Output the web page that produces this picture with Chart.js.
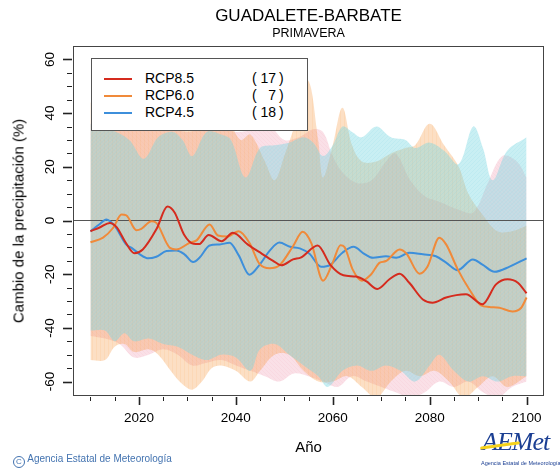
<!DOCTYPE html>
<html>
<head>
<meta charset="utf-8">
<script src="https://cdn.jsdelivr.net/npm/chart.js@4.4.1/dist/chart.umd.min.js"></script>
<style>
  body { margin: 0; background: #fff; font-family: "Liberation Sans", Arial, sans-serif; }
  #wrap { position: relative; width: 560px; height: 469px; overflow: hidden; }
  #chart { position: absolute; left: 0; top: 0; }
  .t { position: absolute; white-space: nowrap; color: #000; }
  #legend { position: absolute; left: 91px; top: 58px; width: 215px; height: 71px;
            border: 1px solid #555; background: #fff; }
  .row { position: absolute; left: 0; width: 215px; height: 17px; font-size: 14px; line-height: 17px; }
  .row .sw { position: absolute; left: 12px; top: 8px; width: 28px; height: 2px; }
  .row .name { position: absolute; left: 53px; }
  .row .po { position: absolute; left: 160px; }
  .row .n { position: absolute; left: 164px; width: 20px; text-align: right; }
  .row .pc { position: absolute; left: 187px; }
</style>
</head>
<body>
<div id="wrap">
  <canvas id="chart" width="560" height="469"></canvas>
  <div class="t" style="left:0;width:617px;text-align:center;top:6px;font-size:17px;">GUADALETE-BARBATE</div>
  <div class="t" style="left:0;width:617px;text-align:center;top:26px;font-size:12.5px;">PRIMAVERA</div>
  <div class="t" style="left:18px;top:221px;font-size:15px;transform:translate(-50%,-50%) rotate(-90deg);">Cambio de la precipitación (%)</div>
  <div class="t" style="left:0;width:617px;text-align:center;top:438px;font-size:15px;">Año</div>
  <div id="legend"></div>
  <div class="t" style="left:13px;top:453px;font-size:10px;color:#4373b0;">
    <span style="display:inline-block;width:10px;height:10px;border:1px solid #4373b0;border-radius:50%;font-size:8px;line-height:10px;text-align:center;vertical-align:-2px;">C</span>
    Agencia Estatal de Meteorología</div>
  <div class="t" style="left:482px;top:427px;font-size:26px;font-family:'Liberation Serif',serif;font-style:italic;color:#1b3f93;letter-spacing:-1px;">AEMet</div>
  <div style="position:absolute;left:480px;top:444px;width:40px;height:3px;background:#f5d21c;transform:rotate(-8deg);border-radius:2px;"></div>
  <div class="t" style="left:481px;top:460px;font-size:5.5px;color:#1b3f93;">Agencia Estatal de Meteorología</div>
</div>
<script>
// Axis ticks
const xTickYears = [2010, 2015, 2020, 2025, 2030, 2035, 2040, 2045, 2050, 2055, 2060, 2065, 2070, 2075, 2080, 2085, 2090, 2095, 2100];
const xTickLabels = [2020, 2040, 2060, 2080, 2100];
const yTickValues = [-60, -55, -50, -45, -40, -35, -30, -25, -20, -15, -10, -5, 0, 5, 10, 15, 20, 25, 30, 35, 40, 45, 50, 55, 60];
const yTickLabels = [-60, -40, -20, 0, 20, 40, 60];

// Legend
const scenarios = ['RCP8.5', 'RCP6.0', 'RCP4.5'];
const modelCounts = [17, 7, 18];

// Ensemble means [year, %]
const rcp85Mean = [[2010,-4],[2012,-2.5],[2014,-0.9],[2015.4,-2.5],[2017.2,-8],[2019.1,-12.2],[2020.8,-10.8],[2023.6,-3.3],[2025.9,5.2],[2027.4,2.9],[2029.3,-5.2],[2031.3,-8.7],[2032.4,-8.8],[2034.4,-5.4],[2037.1,-7.7],[2039.4,-4.6],[2042.5,-9],[2045.4,-12.4],[2047.7,-15],[2049.4,-16.7],[2051.8,-14.5],[2053.5,-13.7],[2056.9,-9.3],[2059.5,-16.5],[2062.2,-20.4],[2064.8,-20.9],[2066.9,-22.6],[2069.2,-25.5],[2071.7,-21.9],[2073.8,-19.8],[2075.8,-23.2],[2078.6,-29.4],[2080.6,-30.6],[2083.4,-28.7],[2085.5,-27.8],[2087.5,-27.5],[2090.9,-31.2],[2093.7,-23.8],[2096.1,-21.9],[2098.2,-23.2],[2100,-27.1]];
const rcp60Mean = [[2010,-8.1],[2012.6,-6.4],[2014.7,-2.7],[2016.4,2.2],[2017.4,1.9],[2019.5,-3.6],[2020.5,-3.1],[2022.6,-0.3],[2023.6,-0.9],[2026.4,-10.2],[2027.7,-10.8],[2030.5,-8.3],[2031.9,-7.4],[2034.6,-1.5],[2036.3,-5.6],[2038.2,-6],[2040.6,-4],[2042.8,-8.3],[2044.9,-16.2],[2047,-17.8],[2049,-16.7],[2051.8,-9.6],[2053.8,-4.2],[2055.6,-8.5],[2058,-22.4],[2060,-15.7],[2061.6,-9.2],[2062.4,-9.8],[2064.1,-18.2],[2066,-22.4],[2067.9,-20.1],[2069.7,-15.7],[2071,-15.1],[2073.8,-10.8],[2075.2,-12.3],[2077.9,-19.8],[2079.6,-17],[2082,-6.4],[2083.4,-8.9],[2085.8,-18.2],[2088.2,-25.7],[2090.6,-31.6],[2092.3,-32.2],[2094.4,-32.5],[2097.1,-33.9],[2098.9,-32.5],[2100,-28.7]];
const rcp45Mean = [[2010,-4],[2011.8,-1.5],[2013.3,0.4],[2015,-2],[2017.4,-9],[2018.5,-10.2],[2020.2,-12.6],[2021.9,-14.1],[2023.6,-13.5],[2025.7,-11.4],[2027.7,-11.2],[2029.4,-12.6],[2031.2,-15.5],[2032.5,-13.9],[2034.6,-9.3],[2036.7,-8.9],[2038.7,-8.3],[2040.6,-13],[2042.8,-20.2],[2044.9,-16.5],[2047,-11.2],[2049,-8.2],[2051.2,-9.8],[2053.2,-10.4],[2055.2,-12.4],[2057.6,-17.2],[2059.5,-16.5],[2062,-12],[2064.3,-9.8],[2066.5,-12.4],[2068.3,-13.9],[2071,-13.3],[2073.1,-13.9],[2075.8,-12],[2078.6,-12.6],[2081.3,-13.3],[2083.4,-15.7],[2085.8,-18.5],[2088.9,-14.5],[2090.9,-16.4],[2093.4,-19.1],[2096.5,-17.2],[2100,-14.1]];

// Ensemble spread (upper / lower envelopes)
const rcp85Upper = [[2010,36],[2015,35],[2020,34],[2025,35],[2030,33],[2035,35],[2040,33],[2044,34],[2047,35],[2050,30],[2053,31],[2056,34],[2058,33],[2060,24],[2062,18],[2065,14],[2068,15],[2071,22],[2073,25],[2076,15],[2079,9],[2082,7],[2086,4],[2089,3],[2092,14],[2095,24],[2098,22],[2100,16]];
const rcp85Lower = [[2010,-43],[2013,-44],[2016,-46],[2019,-51],[2022,-50],[2025,-48],[2028,-50],[2031,-54],[2034,-53],[2037,-52],[2040,-54],[2043,-56],[2046,-58],[2049,-60],[2052,-57],[2055,-58],[2058,-60],[2061,-62],[2064,-58],[2067,-60],[2070,-62],[2073,-64],[2076,-66],[2079,-64],[2082,-60],[2085,-62],[2088,-60],[2091,-64],[2094,-66],[2097,-62],[2100,-60]];
const rcp60Upper = [[2010,44],[2014,42],[2018,40],[2022,36],[2026,42],[2030,38],[2034,40],[2038,38],[2041,30],[2043,32],[2046,22],[2048,15],[2050,24],[2053,40],[2055,52],[2057,30],[2058,16],[2060,28],[2062,42],[2064,28],[2066,22],[2069,22],[2072,25],[2075,27],[2077,28],[2080,36],[2083,28],[2086,20],[2088,10],[2091,2],[2094,-4],[2097,-4],[2100,-2]];
const rcp60Lower = [[2010,-52],[2013,-52],[2015,-47],[2017,-46],[2019,-49],[2022,-48],[2024,-50],[2027,-57],[2029,-61],[2031,-63],[2033,-60],[2035,-55],[2037,-54],[2040,-56],[2043,-60],[2045,-56],[2048,-50],[2051,-50],[2054,-56],[2057,-60],[2060,-60],[2063,-58],[2066,-62],[2069,-66],[2072,-60],[2075,-56],[2078,-58],[2081,-56],[2084,-60],[2087,-66],[2090,-62],[2093,-58],[2096,-62],[2100,-58]];
const rcp45Upper = [[2010,36],[2014,34],[2018,30],[2021,23],[2024,31],[2027,33],[2029,30],[2031,24],[2034,33],[2037,32],[2039,30],[2042,16],[2045,27],[2048,28],[2051,29],[2054,31],[2056,29],[2058,24],[2060,28],[2062,35],[2064,33],[2066,31],[2069,35],[2072,31],[2075,30],[2077,27],[2080,29],[2083,26],[2086,21],[2089,35],[2091,27],[2093,15],[2096,26],[2100,31]];
const rcp45Lower = [[2010,-41],[2013,-41],[2015,-45],[2017,-42],[2019,-45],[2022,-44],[2025,-46],[2028,-47],[2031,-50],[2034,-52],[2037,-50],[2040,-51],[2043,-56],[2045,-48],[2048,-46],[2051,-50],[2054,-54],[2057,-58],[2059,-62],[2062,-56],[2065,-54],[2068,-56],[2071,-54],[2074,-56],[2077,-60],[2080,-54],[2082,-50],[2085,-56],[2088,-60],[2091,-58],[2094,-60],[2097,-58],[2100,-58]];
const zeroLine = [[2006.4,0],[2103.6,0]];

const lineColors = ['#d52b1e', '#f08a3a', '#3d8fdb'];

const toPts = arr => arr.map(([x, y]) => ({ x, y }));

// light hatched fill, like the shaded spread in the original
function hatch(rgb, alpha, dir) {
    const c = document.createElement('canvas');
    c.width = 4; c.height = 4;
    const g = c.getContext('2d');
    g.fillStyle = `rgba(${rgb},${alpha})`;
    g.fillRect(0, 0, 4, 4);
    g.strokeStyle = `rgba(${rgb},${alpha * 0.35})`;
    g.lineWidth = 1;
    g.beginPath();
    if (dir === 'v') { g.moveTo(0.5, 0); g.lineTo(0.5, 4); }
    else if (dir === 'd') { g.moveTo(0, 4); g.lineTo(4, 0); }
    else { g.moveTo(0, 0); g.lineTo(4, 4); }
    g.stroke();
    return g.createPattern(c, 'repeat');
}
const bandFills = [hatch('240,160,180', 0.32, 'b'), hatch('245,150,60', 0.3, 'v'), hatch('120,215,225', 0.4, 'd')];

function lineSet(label, data, color, order) {
    return { label, data: toPts(data), borderColor: color, borderWidth: 2, pointRadius: 0,
             fill: false, cubicInterpolationMode: 'monotone', order };
}
function bandSet(data, color, fill, order) {
    return { data: toPts(data), borderWidth: 0, borderColor: 'rgba(0,0,0,0)', backgroundColor: color,
             pointRadius: 0, fill, tension: 0.35, order };
}

// legend box (html)
const legendEl = document.getElementById('legend');
scenarios.forEach((name, i) => {
    const row = document.createElement('div');
    row.className = 'row';
    row.style.top = (11 + i * 17) + 'px';
    row.innerHTML = `<span class="sw" style="background:${lineColors[i]}"></span>
        <span class="name">${name}</span><span class="po">(</span>
        <span class="n">${modelCounts[i]}</span><span class="pc">)</span>`;
    legendEl.appendChild(row);
});

// frame, ticks and tick labels in R style
const rAxes = {
    id: 'rAxes',
    afterDraw(chart) {
        const { ctx, chartArea: a, scales: { x, y } } = chart;
        ctx.save();
        ctx.strokeStyle = '#444';
        ctx.lineWidth = 1;
        ctx.strokeRect(a.left + 0.5, a.top + 0.5, a.right - a.left - 1, a.bottom - a.top);
        ctx.strokeStyle = '#222';
        xTickYears.forEach(v => {
            const px = Math.round(x.getPixelForValue(v)) + 0.5;
            const major = xTickLabels.includes(v);
            ctx.lineWidth = major ? 1.6 : 1;
            ctx.beginPath();
            ctx.moveTo(px, a.bottom + 2);
            ctx.lineTo(px, a.bottom + (major ? 10 : 6));
            ctx.stroke();
        });
        yTickValues.forEach(v => {
            const py = Math.round(y.getPixelForValue(v)) + 0.5;
            const major = yTickLabels.includes(v);
            ctx.lineWidth = major ? 1.6 : 1;
            ctx.beginPath();
            ctx.moveTo(a.left - 1, py);
            ctx.lineTo(a.left - (major ? 10 : 6), py);
            ctx.stroke();
        });
        ctx.fillStyle = '#000';
        ctx.font = '13.5px "Liberation Sans", Arial, sans-serif';
        ctx.textAlign = 'center';
        ctx.textBaseline = 'middle';
        xTickLabels.forEach(v => ctx.fillText(String(v), x.getPixelForValue(v), a.bottom + 23));
        yTickLabels.forEach(v => {
            ctx.save();
            ctx.translate(50, y.getPixelForValue(v));
            ctx.rotate(-Math.PI / 2);
            ctx.fillText(String(v), 0, 0);
            ctx.restore();
        });
        ctx.restore();
    }
};

new Chart(document.getElementById('chart'), {
    type: 'line',
    data: {
        datasets: [
            lineSet('RCP8.5', rcp85Mean, lineColors[0], 0),
            lineSet('RCP6.0', rcp60Mean, lineColors[1], 1),
            lineSet('RCP4.5', rcp45Mean, lineColors[2], 2),
            { data: toPts(zeroLine), borderColor: '#555', borderWidth: 1, pointRadius: 0, fill: false, order: 5 },
            bandSet(rcp85Upper, bandFills[0], '+1', 13),
            bandSet(rcp85Lower, bandFills[0], false, 13),
            bandSet(rcp60Upper, bandFills[1], '+1', 12),
            bandSet(rcp60Lower, bandFills[1], false, 12),
            bandSet(rcp45Upper, bandFills[2], '+1', 11),
            bandSet(rcp45Lower, bandFills[2], false, 11)
        ]
    },
    options: {
        responsive: false,
        animation: false,
        events: [],
        devicePixelRatio: 1,
        layout: { padding: { left: 73, right: 16, top: 46, bottom: 74 } },
        scales: {
            x: { type: 'linear', min: 2006.4, max: 2103.6, display: false },
            y: { type: 'linear', min: -65, max: 65, display: false }
        },
        plugins: {
            legend: { display: false },
            tooltip: { enabled: false }
        }
    },
    plugins: [rAxes]
});
</script>
</body>
</html>
